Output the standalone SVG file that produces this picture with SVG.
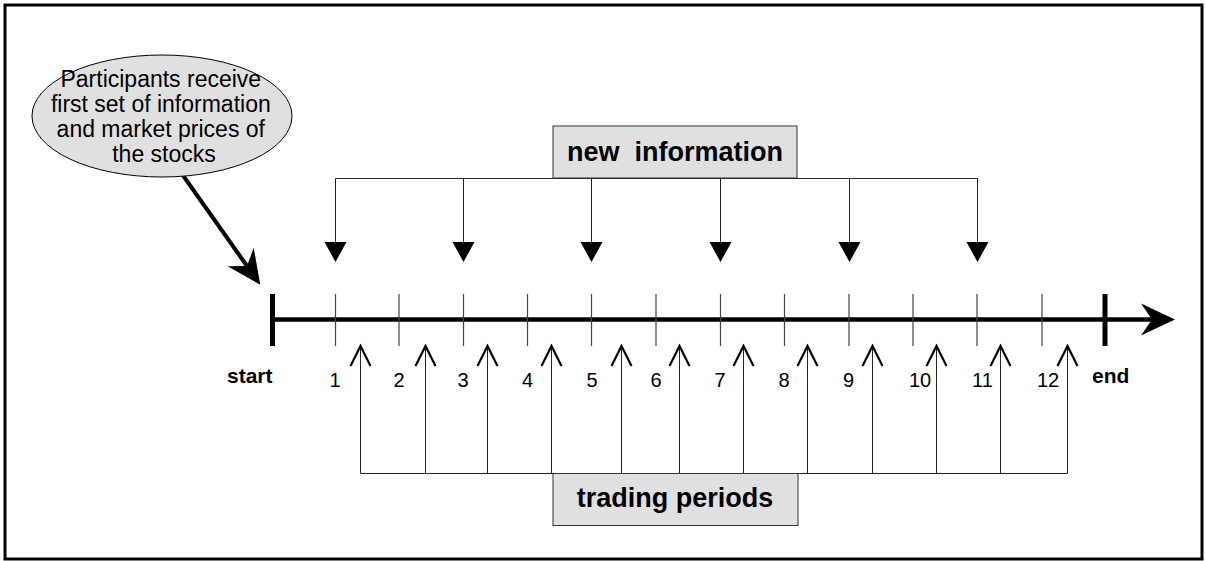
<svg xmlns="http://www.w3.org/2000/svg" width="1205" height="561" viewBox="0 0 1205 561">
<style>
.t{font-family:"Liberation Sans",Arial,Helvetica,sans-serif;fill:#000}
.b{font-weight:bold}
.box{fill:#e0e0e0;stroke:#333;stroke-width:1}
.thin{stroke:#222;stroke-width:1;fill:none}
.tick{stroke:#444;stroke-width:1.2}
.heavy{stroke:#000;fill:none}
</style>
<defs>
<marker id="barb" markerUnits="userSpaceOnUse" orient="auto" refX="-23" refY="0" markerWidth="80" markerHeight="80" overflow="visible">
<path d="M0,0 L-34,-16 L-23,0 L-34,16 Z" fill="#000"/>
</marker>
<marker id="tri" markerUnits="userSpaceOnUse" orient="auto" refX="0" refY="0" markerWidth="40" markerHeight="40" overflow="visible">
<path d="M0,-11 L20,0 L0,11 Z" fill="#000"/>
</marker>
<marker id="open" markerUnits="userSpaceOnUse" orient="auto" refX="0" refY="0" markerWidth="40" markerHeight="40" overflow="visible">
<path d="M-20,-10 L0,0 L-20,10" fill="none" stroke="#000" stroke-width="2.2"/>
</marker>
</defs>
<rect x="5" y="5" width="1197" height="554" fill="#fff" stroke="#000" stroke-width="3"/>

<g id="connectors">
<line class="heavy" x1="182" y1="174" x2="247" y2="266" stroke-width="4" marker-end="url(#barb)"/>
<line class="heavy" x1="272" y1="319.5" x2="1152" y2="319.5" stroke-width="4.5" marker-end="url(#barb)"/>
<polyline class="thin" points="335.5,178.5 977.5,178.5"/>
<line class="thin" x1="335.5" y1="178.5" x2="335.5" y2="242" marker-end="url(#tri)"/>
<line class="thin" x1="463.5" y1="178.5" x2="463.5" y2="242" marker-end="url(#tri)"/>
<line class="thin" x1="591.5" y1="178.5" x2="591.5" y2="242" marker-end="url(#tri)"/>
<line class="thin" x1="720.5" y1="178.5" x2="720.5" y2="242" marker-end="url(#tri)"/>
<line class="thin" x1="849.5" y1="178.5" x2="849.5" y2="242" marker-end="url(#tri)"/>
<line class="thin" x1="977.5" y1="178.5" x2="977.5" y2="242" marker-end="url(#tri)"/>
<polyline class="thin" points="360.5,473.5 1067.5,473.5"/>
<line class="thin" x1="360.5" y1="473.5" x2="360.5" y2="346" marker-end="url(#open)"/>
<line class="thin" x1="425.5" y1="473.5" x2="425.5" y2="346" marker-end="url(#open)"/>
<line class="thin" x1="487.5" y1="473.5" x2="487.5" y2="346" marker-end="url(#open)"/>
<line class="thin" x1="551.5" y1="473.5" x2="551.5" y2="346" marker-end="url(#open)"/>
<line class="thin" x1="621.5" y1="473.5" x2="621.5" y2="346" marker-end="url(#open)"/>
<line class="thin" x1="679.5" y1="473.5" x2="679.5" y2="346" marker-end="url(#open)"/>
<line class="thin" x1="743.5" y1="473.5" x2="743.5" y2="346" marker-end="url(#open)"/>
<line class="thin" x1="807.5" y1="473.5" x2="807.5" y2="346" marker-end="url(#open)"/>
<line class="thin" x1="872.5" y1="473.5" x2="872.5" y2="346" marker-end="url(#open)"/>
<line class="thin" x1="936.5" y1="473.5" x2="936.5" y2="346" marker-end="url(#open)"/>
<line class="thin" x1="1000.5" y1="473.5" x2="1000.5" y2="346" marker-end="url(#open)"/>
<line class="thin" x1="1067.5" y1="473.5" x2="1067.5" y2="346" marker-end="url(#open)"/>
</g>

<g id="axis-marks">
<rect x="270" y="294" width="5" height="52" fill="#000"/>
<rect x="1102.5" y="294" width="5" height="52" fill="#000"/>
<line class="tick" x1="335.5" y1="294" x2="335.5" y2="346"/>
<line class="tick" x1="399" y1="294" x2="399" y2="346"/>
<line class="tick" x1="463.5" y1="294" x2="463.5" y2="346"/>
<line class="tick" x1="527.5" y1="294" x2="527.5" y2="346"/>
<line class="tick" x1="591.5" y1="294" x2="591.5" y2="346"/>
<line class="tick" x1="656" y1="294" x2="656" y2="346"/>
<line class="tick" x1="720.5" y1="294" x2="720.5" y2="346"/>
<line class="tick" x1="784.5" y1="294" x2="784.5" y2="346"/>
<line class="tick" x1="849" y1="294" x2="849" y2="346"/>
<line class="tick" x1="913" y1="294" x2="913" y2="346"/>
<line class="tick" x1="977" y1="294" x2="977" y2="346"/>
<line class="tick" x1="1042" y1="294" x2="1042" y2="346"/>
</g>

<g id="callout">
<ellipse cx="162" cy="116" rx="130" ry="61" fill="#e0e0e0" stroke="#000" stroke-width="1"/>
<text class="t" font-size="23" text-anchor="middle">
<tspan x="164" y="87">Participants receive</tspan>
<tspan x="164" y="112">first set of information</tspan>
<tspan x="164" y="137">and market prices of</tspan>
<tspan x="164" y="162">the stocks</tspan>
</text>
</g>

<g id="new-information">
<rect class="box" x="553" y="126" width="244" height="52"/>
<text class="t b" x="675" y="161" font-size="27" text-anchor="middle" xml:space="preserve" style="white-space:pre">new  information</text>
</g>

<g id="trading-periods">
<rect class="box" x="553" y="473.5" width="245" height="52"/>
<text class="t b" x="675" y="507" font-size="27" text-anchor="middle">trading periods</text>
</g>

<g id="start-label"><text class="t b" x="227" y="383" font-size="21">start</text></g>
<g id="end-label"><text class="t b" x="1092" y="383" font-size="21">end</text></g>

<g id="period-numbers" class="t" font-size="20" text-anchor="middle">
<text x="335" y="387">1</text>
<text x="399" y="387">2</text>
<text x="463" y="387">3</text>
<text x="527.5" y="387">4</text>
<text x="592" y="387">5</text>
<text x="656" y="387">6</text>
<text x="720" y="387">7</text>
<text x="784" y="387">8</text>
<text x="848.5" y="387">9</text>
<text x="920" y="387">10</text>
<text x="982.5" y="387">11</text>
<text x="1048" y="387">12</text>
</g>
</svg>
